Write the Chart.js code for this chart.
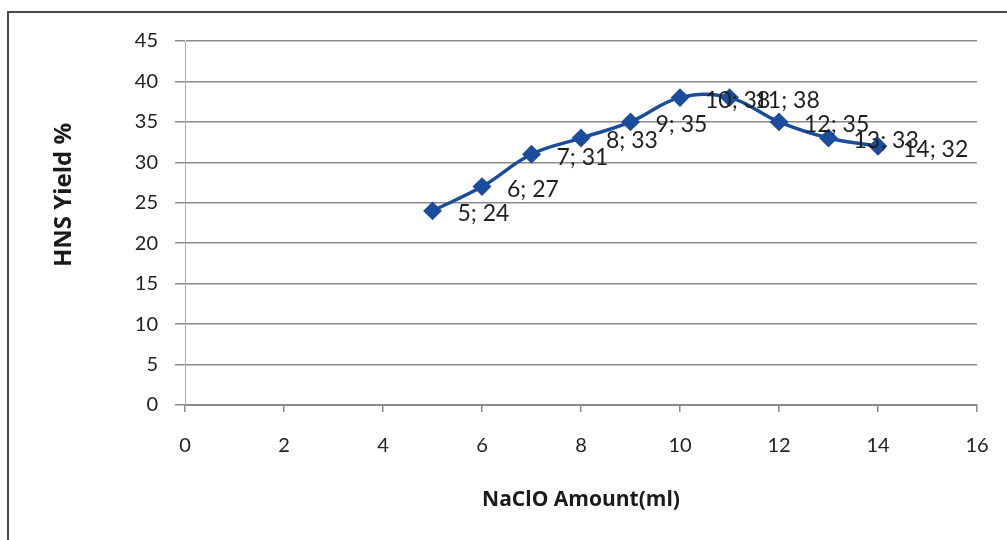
<!DOCTYPE html>
<html>
<head>
<meta charset="utf-8">
<script src="https://cdn.jsdelivr.net/npm/chart.js@4.4.1/dist/chart.umd.min.js"></script>
<style>
  html, body { margin: 0; padding: 0; background: #fff; }
  #wrap { width: 1007px; height: 540px; position: relative; }
</style>
</head>
<body>
<div id="wrap"><canvas id="c" width="1007" height="540"></canvas></div>
<script>
// NaClO amount (ml) and HNS yield (%)
const naclo = [5, 6, 7, 8, 9, 10, 11, 12, 13, 14];
const yieldPct = [24, 27, 31, 33, 35, 38, 38, 35, 33, 32];
const xTitle = 'NaClO Amount(ml)';
const yTitle = 'HNS Yield %';

const FONT = 'Lato, "Open Sans", "Liberation Sans", sans-serif';
const TITLE_FONT = '"Open Sans", Lato, sans-serif';
const LINE_BLUE = '#1c4c9c';

// Outer frame (left and top edges) plus the two axis titles
const framePlugin = {
  id: 'frame',
  afterDraw(chart) {
    const ctx = chart.ctx;
    ctx.save();
    ctx.strokeStyle = '#4a4a4a';
    ctx.lineWidth = 2;
    ctx.beginPath();
    ctx.moveTo(8, 540);
    ctx.lineTo(8, 12);
    ctx.lineTo(1007, 12);
    ctx.stroke();

    ctx.fillStyle = '#1a1a1a';
    ctx.font = 'bold 21px ' + TITLE_FONT;
    ctx.textAlign = 'center';
    ctx.textBaseline = 'middle';
    ctx.fillText(xTitle, 581, 500);

    ctx.translate(64, 195);
    ctx.rotate(-Math.PI / 2);
    ctx.font = 'bold 24px ' + TITLE_FONT;
    ctx.fillText(yTitle, 0, 0);
    ctx.restore();
  }
};

// "x; y" label to the right of every point
const pointLabels = {
  id: 'pointLabels',
  afterDatasetsDraw(chart) {
    const ctx = chart.ctx;
    const meta = chart.getDatasetMeta(0);
    ctx.save();
    ctx.fillStyle = '#1e1e1e';
    ctx.font = '23px ' + FONT;
    ctx.textAlign = 'left';
    ctx.textBaseline = 'middle';
    meta.data.forEach((pt, i) => {
      ctx.fillText(naclo[i] + '; ' + yieldPct[i], pt.x + 25, pt.y + 3);
    });
    ctx.restore();
  }
};

new Chart(document.getElementById('c'), {
  type: 'line',
  data: {
    datasets: [{
      data: naclo.map((x, i) => ({ x: x, y: yieldPct[i] })),
      borderColor: LINE_BLUE,
      backgroundColor: LINE_BLUE,
      borderWidth: 3.5,
      tension: 0.4,
      pointStyle: 'rectRot',
      pointRadius: 7,
      pointHoverRadius: 7,
      pointBackgroundColor: LINE_BLUE,
      pointBorderColor: LINE_BLUE,
      fill: false
    }]
  },
  options: {
    responsive: false,
    animation: false,
    devicePixelRatio: 1,
    layout: { padding: { top: 41, right: 30, left: 0, bottom: 0 } },
    plugins: { legend: { display: false }, tooltip: { enabled: false } },
    scales: {
      x: {
        type: 'linear',
        min: 0, max: 16,
        afterFit(s) { s.height = 135; s.paddingRight = 0; s.paddingLeft = 0; },
        ticks: { stepSize: 2, color: '#222', font: { family: FONT, size: 20 }, padding: 22, maxRotation: 0 },
        grid: { drawOnChartArea: false, drawTicks: true, tickLength: 7, color: '#8a8a8a', lineWidth: 1.5 },
        border: { color: '#8a8a8a', width: 2 }
      },
      y: {
        min: 0, max: 45,
        afterFit(s) { s.width = 185; },
        ticks: { stepSize: 5, color: '#222', font: { family: FONT, size: 20 }, padding: 17 },
        grid: { color: '#8a8a8a', lineWidth: 1.5, tickLength: 10 },
        border: { color: '#b0b0b0', width: 1 }
      }
    }
  },
  plugins: [framePlugin, pointLabels]
});
</script>
</body>
</html>
